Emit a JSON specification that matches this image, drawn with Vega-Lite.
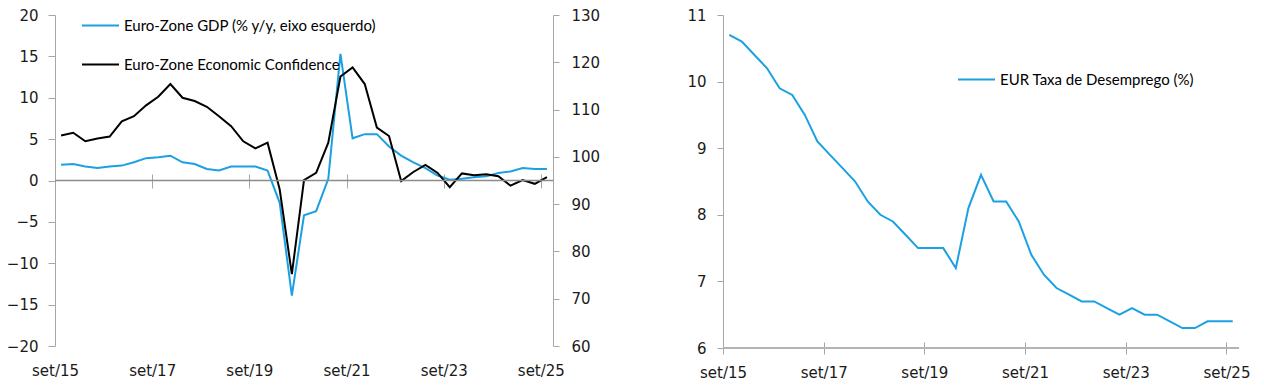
{
  "$schema": "https://vega.github.io/schema/vega-lite/v6.json",
  "autosize": {"type": "pad"},
  "padding": {"left": 6, "top": 6, "right": 0, "bottom": 0},
  "spacing": 170,
  "bounds": "flush",
  "background": "white",
  "config": {
    "view": {"stroke": null},
    "axis": {
      "grid": false,
      "domainColor": "#a6a6a6",
      "tickColor": "#a6a6a6",
      "labelColor": "#1a1a1a",
      "labelFont": "DejaVu Sans",
      "labelFontSize": 15,
      "labelFlush": false,
      "labelOverlap": false,
      "title": null
    },
    "legend": {
      "labelFont": "Lato",
      "labelFontSize": 15,
      "labelColor": "#000000",
      "labelLimit": 0,
      "symbolType": "stroke",
      "symbolSize": 1369,
      "symbolStrokeWidth": 2,
      "labelOffset": 4,
      "rowPadding": 11,
      "title": null
    }
  },
  "datasets": {
    "euro": [
      {"i": 0, "date": "2015-09", "gdp": 1.9, "conf": 104.5},
      {"i": 1, "date": "2015-12", "gdp": 2.0, "conf": 105.1},
      {"i": 2, "date": "2016-03", "gdp": 1.7, "conf": 103.3},
      {"i": 3, "date": "2016-06", "gdp": 1.5, "conf": 103.9},
      {"i": 4, "date": "2016-09", "gdp": 1.7, "conf": 104.3},
      {"i": 5, "date": "2016-12", "gdp": 1.8, "conf": 107.5},
      {"i": 6, "date": "2017-03", "gdp": 2.2, "conf": 108.6},
      {"i": 7, "date": "2017-06", "gdp": 2.7, "conf": 110.9},
      {"i": 8, "date": "2017-09", "gdp": 2.8, "conf": 112.7},
      {"i": 9, "date": "2017-12", "gdp": 3.0, "conf": 115.4},
      {"i": 10, "date": "2018-03", "gdp": 2.2, "conf": 112.5},
      {"i": 11, "date": "2018-06", "gdp": 2.0, "conf": 111.8},
      {"i": 12, "date": "2018-09", "gdp": 1.4, "conf": 110.6},
      {"i": 13, "date": "2018-12", "gdp": 1.2, "conf": 108.6},
      {"i": 14, "date": "2019-03", "gdp": 1.7, "conf": 106.5},
      {"i": 15, "date": "2019-06", "gdp": 1.7, "conf": 103.3},
      {"i": 16, "date": "2019-09", "gdp": 1.7, "conf": 101.8},
      {"i": 17, "date": "2019-12", "gdp": 1.2, "conf": 103.0},
      {"i": 18, "date": "2020-03", "gdp": -2.7, "conf": 93.1},
      {"i": 19, "date": "2020-06", "gdp": -13.9, "conf": 75.2},
      {"i": 20, "date": "2020-09", "gdp": -4.2, "conf": 95.1},
      {"i": 21, "date": "2020-12", "gdp": -3.7, "conf": 96.6},
      {"i": 22, "date": "2021-03", "gdp": 0.2, "conf": 103.0},
      {"i": 23, "date": "2021-06", "gdp": 15.3, "conf": 117.0},
      {"i": 24, "date": "2021-09", "gdp": 5.1, "conf": 118.9},
      {"i": 25, "date": "2021-12", "gdp": 5.6, "conf": 115.4},
      {"i": 26, "date": "2022-03", "gdp": 5.6, "conf": 106.2},
      {"i": 27, "date": "2022-06", "gdp": 4.1, "conf": 104.4},
      {"i": 28, "date": "2022-09", "gdp": 3.0, "conf": 94.9},
      {"i": 29, "date": "2022-12", "gdp": 2.2, "conf": 96.8},
      {"i": 30, "date": "2023-03", "gdp": 1.5, "conf": 98.3},
      {"i": 31, "date": "2023-06", "gdp": 0.6, "conf": 96.6},
      {"i": 32, "date": "2023-09", "gdp": 0.1, "conf": 93.6},
      {"i": 33, "date": "2023-12", "gdp": 0.2, "conf": 96.5},
      {"i": 34, "date": "2024-03", "gdp": 0.4, "conf": 96.1},
      {"i": 35, "date": "2024-06", "gdp": 0.5, "conf": 96.3},
      {"i": 36, "date": "2024-09", "gdp": 0.9, "conf": 95.9},
      {"i": 37, "date": "2024-12", "gdp": 1.1, "conf": 93.9},
      {"i": 38, "date": "2025-03", "gdp": 1.5, "conf": 95.1},
      {"i": 39, "date": "2025-06", "gdp": 1.4, "conf": 94.3},
      {"i": 40, "date": "2025-09", "gdp": 1.4, "conf": 95.7}
    ],
    "unemp": [
      {"i": 0, "date": "2015-09", "rate": 10.7},
      {"i": 1, "date": "2015-12", "rate": 10.6},
      {"i": 2, "date": "2016-03", "rate": 10.4},
      {"i": 3, "date": "2016-06", "rate": 10.2},
      {"i": 4, "date": "2016-09", "rate": 9.9},
      {"i": 5, "date": "2016-12", "rate": 9.8},
      {"i": 6, "date": "2017-03", "rate": 9.5},
      {"i": 7, "date": "2017-06", "rate": 9.1},
      {"i": 8, "date": "2017-09", "rate": 8.9},
      {"i": 9, "date": "2017-12", "rate": 8.7},
      {"i": 10, "date": "2018-03", "rate": 8.5},
      {"i": 11, "date": "2018-06", "rate": 8.2},
      {"i": 12, "date": "2018-09", "rate": 8.0},
      {"i": 13, "date": "2018-12", "rate": 7.9},
      {"i": 14, "date": "2019-03", "rate": 7.7},
      {"i": 15, "date": "2019-06", "rate": 7.5},
      {"i": 16, "date": "2019-09", "rate": 7.5},
      {"i": 17, "date": "2019-12", "rate": 7.5},
      {"i": 18, "date": "2020-03", "rate": 7.2},
      {"i": 19, "date": "2020-06", "rate": 8.1},
      {"i": 20, "date": "2020-09", "rate": 8.6},
      {"i": 21, "date": "2020-12", "rate": 8.2},
      {"i": 22, "date": "2021-03", "rate": 8.2},
      {"i": 23, "date": "2021-06", "rate": 7.9},
      {"i": 24, "date": "2021-09", "rate": 7.4},
      {"i": 25, "date": "2021-12", "rate": 7.1},
      {"i": 26, "date": "2022-03", "rate": 6.9},
      {"i": 27, "date": "2022-06", "rate": 6.8},
      {"i": 28, "date": "2022-09", "rate": 6.7},
      {"i": 29, "date": "2022-12", "rate": 6.7},
      {"i": 30, "date": "2023-03", "rate": 6.6},
      {"i": 31, "date": "2023-06", "rate": 6.5},
      {"i": 32, "date": "2023-09", "rate": 6.6},
      {"i": 33, "date": "2023-12", "rate": 6.5},
      {"i": 34, "date": "2024-03", "rate": 6.5},
      {"i": 35, "date": "2024-06", "rate": 6.4},
      {"i": 36, "date": "2024-09", "rate": 6.3},
      {"i": 37, "date": "2024-12", "rate": 6.3},
      {"i": 38, "date": "2025-03", "rate": 6.4},
      {"i": 39, "date": "2025-06", "rate": 6.4},
      {"i": 40, "date": "2025-09", "rate": 6.4}
    ]
  },
  "resolve": {"scale": {"color": "independent"}, "legend": {"color": "independent"}},
  "hconcat": [
    {
      "width": 498,
      "height": 331,
      "layer": [
        {
          "data": {"name": "euro"},
          "mark": {"type": "line", "strokeWidth": 2},
          "encoding": {
            "x": {
              "field": "i",
              "type": "quantitative",
              "scale": {"domain": [-0.5, 40.5], "nice": false, "zero": false},
              "axis": {
                "values": [-0.5, 7.5, 15.5, 23.5, 31.5, 39.5],
                "labelExpr": "'set/' + (15 + (datum.value + 0.5) / 4)",
                "offset": -172,
                "domain": false,
                "tickSize": 14,
                "labelPadding": 175,
                "labelDx": 5,
                "title": null
              }
            },
            "y": {
              "field": "gdp",
              "type": "quantitative",
              "scale": {"domain": [-20, 20], "nice": false},
              "axis": {
                "orient": "left",
                "values": [-20, -15, -10, -5, 0, 5, 10, 15, 20],
                "tickSize": 7,
                "labelPadding": 10,
                "title": null
              }
            },
            "color": {
              "datum": "Euro-Zone GDP (% y/y, eixo esquerdo)",
              "type": "nominal",
              "scale": {
                "domain": ["Euro-Zone GDP (% y/y, eixo esquerdo)", "Euro-Zone Economic Confidence"],
                "range": ["#1ba1e2", "#000000"]
              },
              "legend": {"orient": "none", "legendX": 26, "legendY": -9, "symbolType": "stroke"}
            }
          }
        },
        {
          "data": {"name": "euro"},
          "mark": {"type": "line", "strokeWidth": 2},
          "encoding": {
            "x": {"field": "i", "type": "quantitative"},
            "y": {
              "field": "conf",
              "type": "quantitative",
              "scale": {"domain": [60, 130], "nice": false, "zero": false},
              "axis": {
                "orient": "right",
                "values": [60, 70, 80, 90, 100, 110, 120, 130],
                "tickSize": 6,
                "labelPadding": 12,
                "title": null
              }
            },
            "color": {"datum": "Euro-Zone Economic Confidence", "type": "nominal"}
          }
        },
        {
          "data": {"values": [{}]},
          "mark": {"type": "rule", "color": "#8c8c8c", "strokeWidth": 1.5},
          "encoding": {
            "y": {"datum": 0, "type": "quantitative", "scale": {"domain": [-20, 20], "nice": false}, "axis": null}
          }
        }
      ],
      "resolve": {"scale": {"y": "independent"}, "axis": {"y": "independent"}}
    },
    {
      "width": 516,
      "height": 333,
      "layer": [
        {
          "data": {"name": "unemp"},
          "mark": {"type": "line", "strokeWidth": 2},
          "encoding": {
            "x": {
              "field": "i",
              "type": "quantitative",
              "scale": {"domain": [-0.5, 40.5], "nice": false, "zero": false},
              "axis": {
                "values": [-0.5, 7.5, 15.5, 23.5, 31.5, 39.5],
                "labelExpr": "'set/' + (15 + (datum.value + 0.5) / 4)",
                "offset": -6,
                "domain": false,
                "tickSize": 12,
                "labelPadding": 11,
                "labelDx": 6,
                "title": null
              }
            },
            "y": {
              "field": "rate",
              "type": "quantitative",
              "scale": {"domain": [6, 11], "nice": false, "zero": false},
              "axis": {
                "values": [6, 7, 8, 9, 10, 11],
                "format": "d",
                "tickSize": 6,
                "labelPadding": 11,
                "title": null
              }
            },
            "color": {
              "datum": "EUR Taxa de Desemprego (%)",
              "type": "nominal",
              "scale": {"domain": ["EUR Taxa de Desemprego (%)"], "range": ["#1ba1e2"]},
              "legend": {"orient": "none", "legendX": 234, "legendY": 45, "symbolType": "stroke"}
            }
          }
        },
        {
          "data": {"values": [{}]},
          "mark": {"type": "rule", "color": "#b3b3b3", "strokeWidth": 2},
          "encoding": {
            "y": {"datum": 6, "type": "quantitative"}
          }
        }
      ]
    }
  ]
}
